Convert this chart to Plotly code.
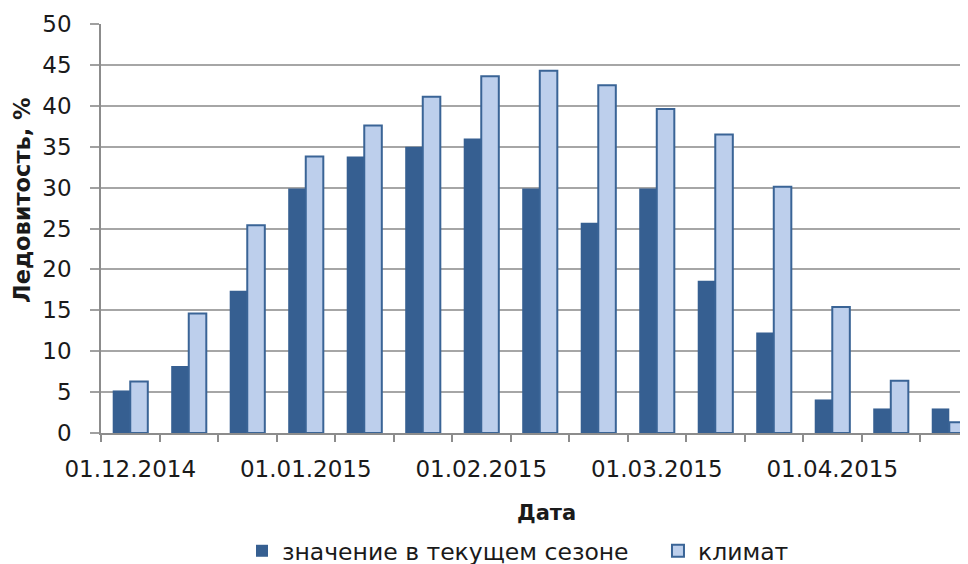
import plotly.graph_objects as go

dates = ["01.12.2014", "11.12.2014", "21.12.2014", "01.01.2015", "11.01.2015",
         "21.01.2015", "01.02.2015", "11.02.2015", "21.02.2015", "01.03.2015",
         "11.03.2015", "21.03.2015", "01.04.2015", "11.04.2015", "21.04.2015"]
current = [5.2, 8.2, 17.4, 29.9, 33.8, 35.0, 36.0, 29.9, 25.7, 29.9, 18.6, 12.3, 4.1, 3.0, 3.0]
climate = [6.3, 14.6, 25.4, 33.8, 37.6, 41.1, 43.6, 44.3, 42.5, 39.6, 36.5, 30.1, 15.4, 6.4, 1.3]
tick_labels = [d if i % 3 == 0 else "" for i, d in enumerate(dates)]

FONT = "DejaVu Sans"
TXT = "#1a1a1a"

fig = go.Figure()
fig.add_trace(go.Bar(
    x=dates, y=current, name="значение в текущем сезоне",
    marker=dict(color="#365F91", line=dict(color="#365F91", width=0)),
))
fig.add_trace(go.Bar(
    x=dates, y=climate, name="климат",
    marker=dict(color="#BDCFEC", line=dict(color="#3A6496", width=2)),
))

fig.update_layout(
    width=968, height=564,
    margin=dict(l=93, r=8, t=16, b=139, autoexpand=False),
    paper_bgcolor="white", plot_bgcolor="white",
    barmode="group", bargap=0.4, bargroupgap=0,
    font=dict(family=FONT, size=23, color=TXT),
    showlegend=True,
    legend=dict(orientation="h", x=0.1626, xanchor="left", y=-0.2885, yanchor="middle",
                entrywidth=371, entrywidthmode="pixels",
                font=dict(size=23.5, family=FONT, color=TXT), bgcolor="rgba(0,0,0,0)"),
    xaxis=dict(
        type="category", range=[-0.5, 14.32], automargin=False,
        tickmode="array", tickvals=dates, ticktext=tick_labels,
        tickson="boundaries", ticks="outside", ticklen=7, tickwidth=1.5, tickcolor="#8c8c8c",
        showline=True, linecolor="#8c8c8c", linewidth=1.5,
        showgrid=False, tickangle=0,
        tickfont=dict(size=23, family=FONT, color=TXT),
        ticklabelstandoff=15,
    ),
    yaxis=dict(
        range=[0, 50], tick0=0, dtick=5, automargin=False,
        ticks="outside", ticklen=9, tickwidth=1.5, tickcolor="#a0a0a0",
        showline=True, linecolor="#8c8c8c", linewidth=1.5,
        showgrid=True, gridcolor="#a6a6a6", gridwidth=1.5,
        zeroline=False,
        tickfont=dict(size=23, family=FONT, color=TXT),
        ticklabelstandoff=14,
    ),
    annotations=[
        dict(text="<b>Ледовитость, %</b>", textangle=-90, xref="paper", yref="paper",
             x=-0.0911, y=0.5697, xanchor="center", yanchor="middle", showarrow=False,
             font=dict(size=22.5, family=FONT, color=TXT)),
        dict(text="<b>Дата</b>", xref="paper", yref="paper",
             x=0.5144, y=-0.1956, xanchor="center", yanchor="middle", showarrow=False,
             font=dict(size=21, family=FONT, color=TXT)),
    ],
)

fig.write_html("out.html")
